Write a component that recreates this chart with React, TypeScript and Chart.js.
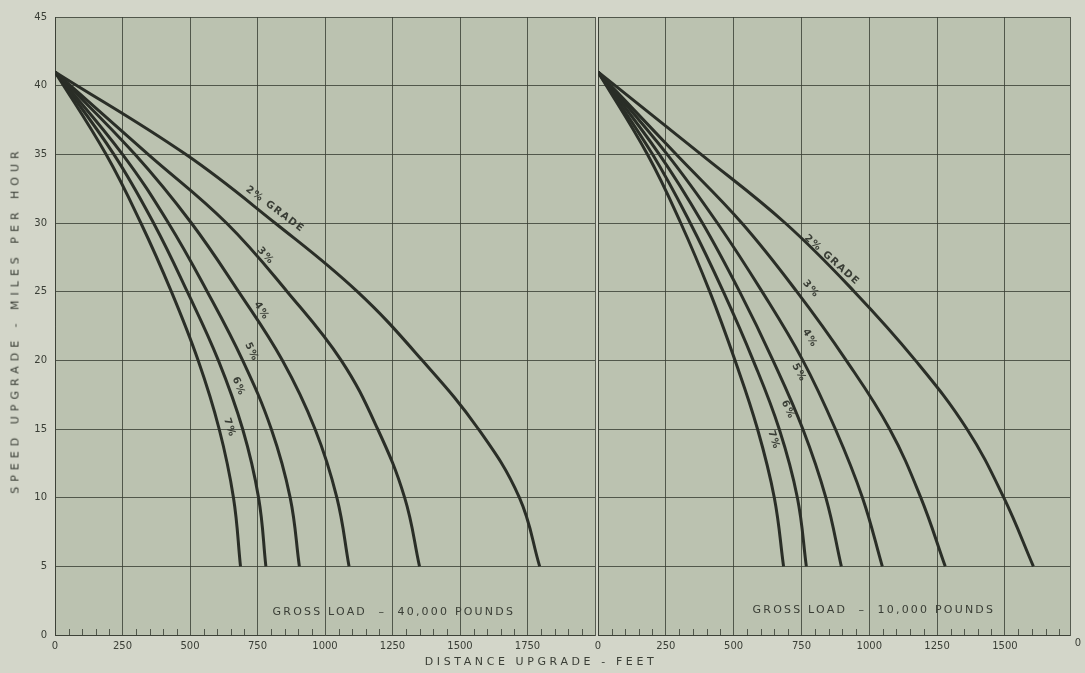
import React, { useEffect, useRef } from 'react';
import { Chart, registerables } from 'chart.js';
Chart.register(...registerables);

// speeds (mph) at which distances were read
const speeds = [41, 35, 30, 25, 20, 15, 10, 5];
const gradeLabels = ['2% GRADE', '3%', '4%', '5%', '6%', '7%'];

// Gross load 40,000 lb — distance upgrade (ft)
const heavy2 = [0, 484, 815, 1120, 1360, 1568, 1720, 1795];
const heavy3 = [0, 345, 635, 860, 1060, 1195, 1295, 1350];
const heavy4 = [0, 296, 505, 680, 842, 963, 1044, 1089];
const heavy5 = [0, 250, 420, 564, 695, 801, 871, 905];
const heavy6 = [0, 218, 365, 490, 605, 695, 754, 781];
const heavy7 = [0, 189, 318, 431, 530, 608, 661, 687];

// Gross load 10,000 lb — distance upgrade (ft)
const light2 = [0, 380, 690, 945, 1170, 1360, 1496, 1605];
const light3 = [0, 288, 530, 733, 915, 1075, 1190, 1280];
const light4 = [0, 255, 440, 605, 755, 875, 975, 1048];
const light5 = [0, 226, 385, 522, 645, 755, 840, 897];
const light6 = [0, 201, 340, 462, 572, 668, 735, 768];
const light7 = [0, 182, 305, 412, 505, 588, 650, 684];

// x-axis ticks and their printed labels
const leftTicks = [0, 250, 500, 750, 1000, 1250, 1500, 1750, 2000];
const leftTickLabels = ['0', '250', '500', '750', '1000', '1250', '1500', '1750', ''];
const rightTicks = [0, 250, 500, 750, 1000, 1250, 1500, 1740];
const rightTickLabels = ['0', '250', '500', '750', '1000', '1250', '1500', ''];

// curve label anchors (data units) and rotation
const heavyLabelX = [815, 780, 765, 728, 680, 646];
const heavyLabelY = [31.0, 27.6, 23.6, 20.6, 18.1, 15.1];
const heavyLabelAngle = [37, 48, 58, 64, 68, 72];
const lightLabelX = [862, 785, 781, 741, 700, 648];
const lightLabelY = [27.3, 25.2, 21.6, 19.1, 16.4, 14.2];
const lightLabelAngle = [42, 50, 58, 62, 66, 72];

const yTickStep = 5;

const INK = '#2a2e27';
const GRID = 'rgba(55,60,50,0.8)';
const PLOT_BG = '#bbc2b0';
const PAPER = '#d3d6c9';
const TEXT = '#3a3e36';

type Panel = {
  series: number[][];
  ticks: number[];
  tickLabels: string[];
  labelX: number[];
  labelY: number[];
  labelAngle: number[];
  load: string;
  loadX: number;
  loadY: number;
  showY: boolean;
  padLeft: number;
  padRight: number;
};

function makeChart(canvas: HTMLCanvasElement, p: Panel) {
  const max = p.ticks[p.ticks.length - 1];
  const bgPlugin = {
    id: 'plotbg',
    beforeDraw(chart: any) {
      const { ctx, chartArea: a } = chart;
      ctx.save();
      ctx.fillStyle = PLOT_BG;
      ctx.fillRect(a.left, a.top, a.right - a.left, a.bottom - a.top);
      ctx.restore();
    },
  };
  const extrasPlugin = {
    id: 'extras',
    afterDatasetsDraw(chart: any) {
      const { ctx, chartArea: a } = chart;
      const xs = chart.scales.x;
      const ys = chart.scales.y;
      ctx.save();
      // minor ticks along the bottom axis
      ctx.strokeStyle = GRID;
      ctx.lineWidth = 1;
      for (let v = 50; v < max; v += 50) {
        if (v % 250 === 0) continue;
        const px = Math.round(xs.getPixelForValue(v)) + 0.5;
        ctx.beginPath();
        ctx.moveTo(px, a.bottom);
        ctx.lineTo(px, a.bottom - 6);
        ctx.stroke();
      }
      // curve labels
      ctx.fillStyle = TEXT;
      ctx.font = 'bold 10px "DejaVu Sans", sans-serif';
      (ctx as any).letterSpacing = '1.4px';
      ctx.textAlign = 'center';
      ctx.textBaseline = 'middle';
      gradeLabels.forEach((t, i) => {
        const px = xs.getPixelForValue(p.labelX[i]);
        const py = ys.getPixelForValue(p.labelY[i]);
        ctx.save();
        ctx.translate(px, py);
        ctx.rotate((p.labelAngle[i] * Math.PI) / 180);
        ctx.fillText(t, 0, 0);
        ctx.restore();
      });
      // gross load text
      ctx.font = '11px "DejaVu Sans", sans-serif';
      (ctx as any).letterSpacing = '2.2px';
      ctx.fillText(p.load, xs.getPixelForValue(p.loadX), ys.getPixelForValue(p.loadY));
      ctx.restore();
    },
  };

  const datasets = p.series.map((d) => ({
    data: speeds.map((s, i) => ({ x: d[i], y: s })),
    borderColor: INK,
    borderWidth: 3,
    pointRadius: 0,
    fill: false,
    tension: 0.4,
  }));

  return new Chart(canvas, {
    type: 'line',
    data: { datasets },
    plugins: [bgPlugin, extrasPlugin],
    options: {
      animation: false,
      responsive: true,
      maintainAspectRatio: false,
      layout: { padding: { top: 17, left: p.padLeft, right: p.padRight, bottom: 0 } },
      plugins: { legend: { display: false }, tooltip: { enabled: false } },
      scales: {
        x: {
          type: 'linear',
          min: 0,
          max,
          afterBuildTicks: (s: any) => {
            s.ticks = p.ticks.map((v) => ({ value: v }));
          },
          ticks: {
            autoSkip: false,
            maxRotation: 0,
            padding: 5,
            color: TEXT,
            font: { family: '"DejaVu Sans", sans-serif', size: 10 },
            callback: (v: any) => {
              const i = p.ticks.indexOf(Number(v));
              return i >= 0 ? p.tickLabels[i] : '';
            },
          },
          grid: { color: GRID, lineWidth: 1, drawTicks: false },
          border: { display: true, color: GRID, width: 1 },
          afterFit: (s: any) => {
            s.height = 38;
          },
        },
        y: {
          type: 'linear',
          min: 0,
          max: 45,
          ticks: {
            stepSize: yTickStep,
            display: p.showY,
            padding: 8,
            color: TEXT,
            font: { family: '"DejaVu Sans", sans-serif', size: 10 },
          },
          grid: { color: GRID, lineWidth: 1, drawTicks: false },
          border: { display: true, color: GRID, width: 1 },
          afterFit: (s: any) => {
            s.width = p.showY ? 55 : 0;
          },
        },
      },
    } as any,
  });
}

export default function App() {
  const leftRef = useRef<HTMLCanvasElement>(null);
  const rightRef = useRef<HTMLCanvasElement>(null);

  useEffect(() => {
    const left = makeChart(leftRef.current!, {
      series: [heavy2, heavy3, heavy4, heavy5, heavy6, heavy7],
      ticks: leftTicks,
      tickLabels: leftTickLabels,
      labelX: heavyLabelX,
      labelY: heavyLabelY,
      labelAngle: heavyLabelAngle,
      load: 'GROSS LOAD  –  40,000 POUNDS',
      loadX: 1255,
      loadY: 1.7,
      showY: true,
      padLeft: 0,
      padRight: 2,
    });
    const right = makeChart(rightRef.current!, {
      series: [light2, light3, light4, light5, light6, light7],
      ticks: rightTicks,
      tickLabels: rightTickLabels,
      labelX: lightLabelX,
      labelY: lightLabelY,
      labelAngle: lightLabelAngle,
      load: 'GROSS LOAD  –  10,000 POUNDS',
      loadX: 1017,
      loadY: 1.8,
      showY: false,
      padLeft: 20,
      padRight: 15,
    });
    return () => {
      left.destroy();
      right.destroy();
    };
  }, []);

  return (
    <div
      style={{
        position: 'fixed',
        left: 0,
        top: 0,
        width: 1085,
        height: 673,
        background: PAPER,
        overflow: 'hidden',
        fontFamily: '"DejaVu Sans", sans-serif',
        color: TEXT,
      }}
    >
      <div style={{ position: 'absolute', left: 0, top: 0, width: 600, height: 673 }}>
        <canvas ref={leftRef} />
      </div>
      <div style={{ position: 'absolute', left: 578, top: 0, width: 507, height: 673 }}>
        <canvas ref={rightRef} />
      </div>
      <div
        style={{
          position: 'absolute',
          left: 15,
          top: 320,
          transform: 'translate(-50%, -50%) rotate(-90deg)',
          whiteSpace: 'nowrap',
          fontSize: 11,
          letterSpacing: '5px',
        }}
      >
        SPEED UPGRADE - MILES PER HOUR
      </div>
      <div
        style={{
          position: 'absolute',
          left: 541,
          top: 661,
          transform: 'translate(-50%, -50%)',
          whiteSpace: 'nowrap',
          fontSize: 11,
          letterSpacing: '3.6px',
        }}
      >
        DISTANCE UPGRADE - FEET
      </div>
      <div
        style={{
          position: 'absolute',
          left: 1078,
          top: 642,
          transform: 'translate(-50%, -50%)',
          fontSize: 10,
        }}
      >
        0
      </div>
    </div>
  );
}
